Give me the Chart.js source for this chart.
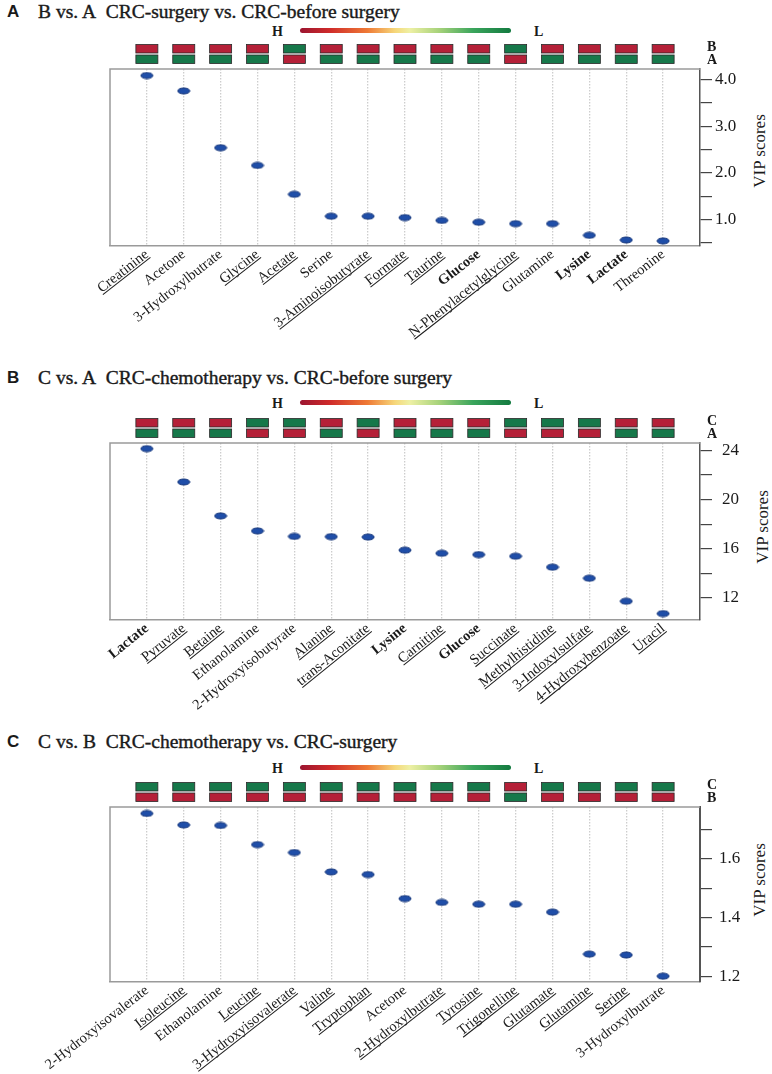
<!DOCTYPE html>
<html><head><meta charset="utf-8">
<script src="https://cdn.jsdelivr.net/npm/chart.js@4.4.1/dist/chart.umd.min.js"></script>
<style>
html,body{margin:0;padding:0;background:#fff;}
body{width:772px;height:1074px;position:relative;overflow:hidden;font-family:"Liberation Serif","Times New Roman",serif;color:#1a1a1a;}
.pl{position:absolute;left:7px;font:bold 17px "Liberation Sans",Arial,sans-serif;line-height:20px;}
.tt{position:absolute;left:38px;font-size:19.5px;line-height:22px;white-space:nowrap;-webkit-text-stroke:0.4px #1a1a1a;}
.grad{position:absolute;left:300px;width:211px;height:5px;border-radius:3px;
background:linear-gradient(90deg,#9b1530 0%,#cf2a2a 14%,#ef7a35 32%,#f6d77a 45%,#eef0a4 52%,#a6d27a 66%,#3aa55c 82%,#137a40 100%);}
.hl{position:absolute;font-weight:bold;font-size:14px;line-height:16px;}
.vip{position:absolute;font-size:17px;line-height:20px;white-space:nowrap;transform:translate(-50%,-50%) rotate(-90deg);}
canvas{position:absolute;left:0;}
</style></head>
<body>
<div class="pl" style="top:2px">A</div>
<div class="tt" style="top:1px">B vs. A&nbsp; CRC-surgery vs. CRC-before surgery</div>
<div class="hl" style="left:272px;top:24px">H</div><div class="grad" style="top:28px"></div><div class="hl" style="left:534px;top:24px">L</div>
<div class="vip" style="left:760px;top:151px">VIP scores</div>

<div class="pl" style="top:368px">B</div>
<div class="tt" style="top:367px">C vs. A&nbsp; CRC-chemotherapy vs. CRC-before surgery</div>
<div class="hl" style="left:272px;top:396px">H</div><div class="grad" style="top:400px"></div><div class="hl" style="left:534px;top:396px">L</div>
<div class="vip" style="left:763px;top:527px">VIP scores</div>

<div class="pl" style="top:732px">C</div>
<div class="tt" style="top:731px">C vs. B&nbsp; CRC-chemotherapy vs. CRC-surgery</div>
<div class="hl" style="left:272px;top:761px">H</div><div class="grad" style="top:765px"></div><div class="hl" style="left:534px;top:761px">L</div>
<div class="vip" style="left:760px;top:880px">VIP scores</div>

<canvas id="cA" width="772" height="320" style="top:40px"></canvas>
<canvas id="cB" width="772" height="330" style="top:412px"></canvas>
<canvas id="cC" width="772" height="296" style="top:778px"></canvas>

<script>
// ---------- Panel A : B vs. A ----------
const categoriesA = ['Creatinine','Acetone','3-Hydroxylbutrate','Glycine','Acetate','Serine','3-Aminoisobutyrate','Formate','Taurine','Glucose','N-Phenylacetylglycine','Glutamine','Lysine','Lactate','Threonine'];
const vipA = [4.09,3.76,2.54,2.16,1.54,1.07,1.07,1.04,0.98,0.94,0.91,0.91,0.66,0.56,0.54];
const levelTopA = ['H','H','H','H','L','H','H','H','H','H','L','H','H','H','H']; // group B
const levelBottomA = ['L','L','L','L','H','L','L','L','L','L','H','L','L','L','L']; // group A
const rowNamesA = ['B','A'];
const underlineA = [1,0,0,1,1,0,1,1,1,0,1,0,0,0,0];
const boldA = [0,0,0,0,0,0,0,0,0,1,0,0,1,1,0];
const yTicksA = [0.5,1.0,1.5,2.0,2.5,3.0,3.5,4.0];
const yTickLabelsA = ['','1.0','','2.0','','3.0','','4.0'];
const yRangeA = [0.43,4.23];

// ---------- Panel B : C vs. A ----------
const categoriesB = ['Lactate','Pyruvate','Betaine','Ethanolamine','2-Hydroxyisobutyrate','Alanine','trans-Aconitate','Lysine','Carnitine','Glucose','Succinate','Methylhistidine','3-Indoxylsulfate','4-Hydroxybenzoate','Uracil'];
const vipB = [24.14,21.43,18.67,17.45,17.0,16.98,16.95,15.88,15.63,15.52,15.39,14.5,13.6,11.73,10.72];
const levelTopB = ['H','H','H','L','L','H','L','H','H','H','L','L','L','H','H']; // group C
const levelBottomB = ['L','L','L','H','H','L','H','L','L','L','H','H','H','L','L']; // group A
const rowNamesB = ['C','A'];
const underlineB = [0,1,1,0,0,1,1,0,1,0,1,1,1,1,1];
const boldB = [1,0,0,0,0,0,0,1,0,1,0,0,0,0,0];
const yTicksB = [12,14,16,18,20,22,24];
const yTickLabelsB = ['12','','16','','20','','24'];
const yRangeB = [10.2,24.6];

// ---------- Panel C : C vs. B ----------
const categoriesC = ['2-Hydroxyisovalerate','Isoleucine','Ethanolamine','Leucine','3-Hydroxyisovalerate','Valine','Tryptophan','Acetone','2-Hydroxylbutrate','Tyrosine','Trigonelline','Glutamate','Glutamine','Serine','3-Hydroxylbutrate'];
const vipC = [1.755,1.716,1.714,1.649,1.622,1.556,1.547,1.465,1.452,1.446,1.446,1.419,1.276,1.273,1.201];
const levelTopC = ['L','L','L','L','L','L','L','L','L','L','H','L','L','L','L']; // group C
const levelBottomC = ['H','H','H','H','H','H','H','H','H','H','L','H','H','H','H']; // group B
const rowNamesC = ['C','B'];
const underlineC = [0,1,0,1,1,1,1,0,1,1,1,1,1,1,0];
const boldC = [0,0,0,0,0,0,0,0,0,0,0,0,0,0,0];
const yTicksC = [1.2,1.3,1.4,1.5,1.6,1.7];
const yTickLabelsC = ['1.2','','1.4','','1.6',''];
const yRangeC = [1.181,1.777];

// ---------- drawing ----------
const SERIF = '"Liberation Serif","Times New Roman",serif';
const RED = '#b52038', GREEN = '#16784a';

function ellipseImg(){
  const c = document.createElement('canvas'); c.width = 14; c.height = 8;
  const g = c.getContext('2d');
  g.beginPath(); g.ellipse(7,4,6,3,0,0,Math.PI*2);
  g.fillStyle = '#1f4ea8'; g.fill();
  g.lineWidth = 1; g.strokeStyle = '#13347a'; g.stroke();
  return c;
}
const dot = ellipseImg();

const decor = {
  id: 'decor',
  afterDraw(chart, args, o) {
    const {ctx, chartArea: a, scales: {x}} = chart;
    ctx.save();
    // frame (top + left)
    ctx.strokeStyle = '#9a9a9a'; ctx.lineWidth = 1.5;
    ctx.beginPath(); ctx.moveTo(a.left, a.bottom); ctx.lineTo(a.left, a.top); ctx.lineTo(a.right, a.top); ctx.stroke();
    // level boxes
    const rows = [o.top, o.bottom];
    const rowY = [a.top - 24.5, a.top - 14];
    const letterY = [a.top - 22, a.top - 9];
    rows.forEach((row, r) => {
      row.forEach((lv, i) => {
        const cx = x.getPixelForValue(i);
        ctx.fillStyle = lv === 'H' ? RED : GREEN;
        ctx.fillRect(cx - 11, rowY[r], 22, 8.5);
        ctx.strokeStyle = '#2a2a2a'; ctx.lineWidth = 0.8;
        ctx.strokeRect(cx - 11, rowY[r], 22, 8.5);
      });
      ctx.fillStyle = '#1a1a1a';
      ctx.font = 'bold 14px ' + SERIF;
      ctx.textBaseline = 'middle'; ctx.textAlign = 'left';
      ctx.fillText(o.names[r], a.right + 7, letterY[r]);
    });
    // underlines for underlined labels
    const items = x.getLabelItems ? x.getLabelItems() : [];
    items.forEach((it, i) => {
      if (!o.underline[i]) return;
      const op = it.options;
      ctx.save();
      ctx.translate(op.translation[0], op.translation[1]);
      ctx.rotate(op.rotation);
      ctx.font = it.font.string;
      ctx.textBaseline = op.textBaseline;
      const w = ctx.measureText(it.label).width;
      const base = it.textOffset + ctx.measureText('x').actualBoundingBoxDescent;
      let x0 = -w, x1 = 0;
      if (op.textAlign === 'left') { x0 = 0; x1 = w; }
      else if (op.textAlign === 'center') { x0 = -w / 2; x1 = w / 2; }
      ctx.strokeStyle = '#1a1a1a'; ctx.lineWidth = 1;
      ctx.beginPath(); ctx.moveTo(x0, base + 2); ctx.lineTo(x1, base + 2); ctx.stroke();
      ctx.restore();
    });
    ctx.restore();
  }
};

function makePanel(id, cats, vals, top, bottom, names, underline, bold, yTicks, yLabels, yRange, padTop, xAxisH, yLabelPad, yBorderW, rot) {
  new Chart(document.getElementById(id), {
    type: 'scatter',
    data: { datasets: [{ data: vals.map((v, i) => ({x: i, y: v})), pointStyle: dot, pointRadius: 6, pointHoverRadius: 6 }] },
    plugins: [decor],
    options: {
      responsive: false, animation: false, devicePixelRatio: 1,
      layout: { padding: { left: 110, top: padTop, right: 0, bottom: 0 } },
      plugins: { legend: {display: false}, tooltip: {enabled: false},
        decor: { top, bottom, names, underline } },
      scales: {
        x: {
          type: 'linear', min: -1, max: 15,
          afterBuildTicks: s => { s.ticks = cats.map((c, i) => ({value: i})); },
          afterFit: s => { s.height = xAxisH; },
          ticks: {
            autoSkip: false, minRotation: rot, maxRotation: rot, padding: 0, color: '#1a1a1a',
            callback: (v, i) => cats[i],
            font: c => ({ family: SERIF, size: 14.5, weight: bold[c.index] ? 'bold' : 'normal' })
          },
          grid: { color: '#cdcdcd', lineWidth: 1.3, drawTicks: false, tickLength: 0 },
          border: { display: true, color: '#9a9a9a', width: 1.5, dash: [1.5, 1.5] }
        },
        y: {
          type: 'linear', position: 'right', min: yRange[0], max: yRange[1],
          afterBuildTicks: s => { s.ticks = yTicks.map(v => ({value: v})); },
          afterFit: s => { s.width = 72; },
          ticks: { autoSkip: false, padding: yLabelPad, color: '#1a1a1a', callback: (v, i) => yLabels[i],
            font: { family: SERIF, size: 17 } },
          grid: { drawOnChartArea: false, drawTicks: true, tickLength: 12, color: '#444', lineWidth: 1.2 },
          border: { display: true, color: '#555', width: yBorderW }
        }
      }
    }
  });
}

makePanel('cA', categoriesA, vipA, levelTopA, levelBottomA, rowNamesA, underlineA, boldA, yTicksA, yTickLabelsA, yRangeA, 29, 114, 3, 1.5, 38);
makePanel('cB', categoriesB, vipB, levelTopB, levelBottomB, rowNamesB, underlineB, boldB, yTicksB, yTickLabelsB, yRangeB, 31, 122, 10, 1.5, 39);
makePanel('cC', categoriesC, vipC, levelTopC, levelBottomC, rowNamesC, underlineC, boldC, yTicksC, yTickLabelsC, yRangeC, 29, 92, 7, 2, 38);
</script>
</body></html>
